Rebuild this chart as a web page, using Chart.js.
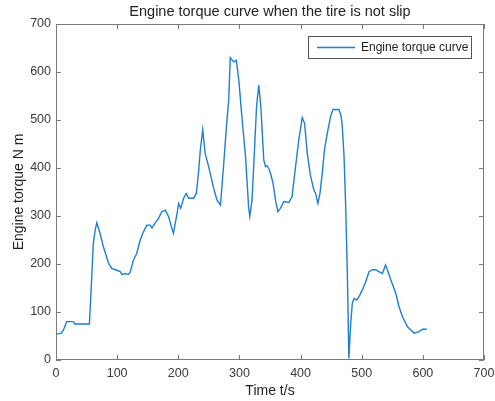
<!DOCTYPE html>
<html>
<head>
<meta charset="utf-8">
<script src="https://cdn.jsdelivr.net/npm/chart.js@4.4.1/dist/chart.umd.min.js"></script>
<style>
  body { margin: 0; background: #fff; }
  #wrap { width: 495px; height: 401px; }
</style>
</head>
<body>
<div id="wrap"><canvas id="grafico" width="495" height="401"></canvas></div>
<script>
// tempo (s) e torque (N m)
const tempo = [0, 5, 9, 12, 17.5, 28, 31, 54.6, 58, 61, 64, 66.7, 72, 77.5, 85.8, 91, 99.5, 105, 108, 113, 118, 121,
  126.7, 132, 137.7, 143, 148.6, 154, 157, 162, 167.7, 173, 178.7, 184, 188, 192, 198, 200.5, 204, 208.7, 213, 217,
  225, 229.5, 233, 236, 240, 244, 249.7, 253.5, 258, 263.4, 269, 274, 278.7, 282.5, 285, 290.7, 295, 299, 304, 310,
  315, 317, 320.6, 324.6, 328, 331.6, 335, 339.8, 342.6, 345, 348, 350.8, 355, 359, 362.8, 367, 372.6, 380.8, 386,
  391.8, 397, 402.7, 406.6, 411, 416, 421.8, 424.6, 428.4, 431.7, 435.5, 439, 443.7, 449, 453, 462.8, 466, 468, 471,
  473.8, 476.5, 479, 482, 484.6, 487.4, 491.8, 495.6, 501, 506.5, 512, 517.5, 523, 528, 533.9, 539, 542, 547.5,
  555.7, 561, 566.7, 574.9, 580, 585.8, 594, 599.5, 606.6];
const torque = [54, 55, 56, 62, 80, 80, 75, 75, 160, 243, 270, 286, 264, 236, 202, 191, 187, 184, 178, 180, 178, 182,
  208, 222, 250, 267, 281, 281, 275, 285, 295, 309, 312, 299, 281, 264, 305, 326, 316, 337, 347, 337,
  337, 347, 389, 437, 480, 430, 403, 382, 357, 333, 323, 403, 486, 542, 630, 621, 624, 583, 507, 424,
  319, 299, 333, 437, 528, 573, 528, 417, 403, 405, 399, 389, 368, 333, 309, 316, 330, 328, 340,
  403, 458, 505, 493, 430, 385, 354, 347, 326, 347, 389, 437, 472, 507, 522, 522, 510, 490, 427,
  319, 181, 3, 76, 118, 128, 125, 132, 146, 163, 184, 188, 188, 184, 180, 198, 188, 167,
  139, 111, 90, 69, 63, 56, 59, 64, 64];
const ticksX = [0, 100, 200, 300, 400, 500, 600, 700];
const ticksY = [0, 100, 200, 300, 400, 500, 600, 700];
const titulo = 'Engine torque curve when the tire is not slip';

const corEixo = '#7a7a7a';
const corTexto = '#3a3a3a';
const fonte = '"Liberation Sans", Arial, sans-serif';

// moldura estilo matlab com ticks para dentro, titulo e legenda
const molduraPlugin = {
  id: 'moldura',
  afterDraw(chart) {
    const ctx = chart.ctx;
    const a = chart.chartArea;
    const sx = chart.scales.x;
    const sy = chart.scales.y;
    ctx.save();
    ctx.strokeStyle = corEixo;
    ctx.lineWidth = 1;
    ctx.strokeRect(a.left + 0.5, a.top + 0.5, a.right - a.left - 1, a.bottom - a.top - 1);
    ctx.beginPath();
    ticksX.forEach(v => {
      const px = Math.round(sx.getPixelForValue(v)) + 0.5;
      ctx.moveTo(px, a.bottom); ctx.lineTo(px, a.bottom - 5);
      ctx.moveTo(px, a.top); ctx.lineTo(px, a.top + 5);
    });
    ticksY.forEach(v => {
      const py = Math.round(sy.getPixelForValue(v)) + 0.5;
      ctx.moveTo(a.left, py); ctx.lineTo(a.left + 5, py);
      ctx.moveTo(a.right, py); ctx.lineTo(a.right - 5, py);
    });
    ctx.stroke();

    // titulo centrado na area do grafico
    ctx.fillStyle = '#222';
    ctx.font = '14.5px ' + fonte;
    ctx.textAlign = 'center';
    ctx.textBaseline = 'middle';
    ctx.fillText(titulo, (a.left + a.right) / 2, 12);

    // legenda
    const lx = 308, ly = 36, lw = 163, lh = 22;
    ctx.fillStyle = '#fff';
    ctx.fillRect(lx, ly, lw, lh);
    ctx.strokeStyle = '#555';
    ctx.strokeRect(lx + 0.5, ly + 0.5, lw, lh);
    ctx.strokeStyle = '#1f7fcf';
    ctx.lineWidth = 1.4;
    ctx.beginPath();
    ctx.moveTo(317, ly + lh / 2 + 0.5);
    ctx.lineTo(355, ly + lh / 2 + 0.5);
    ctx.stroke();
    ctx.fillStyle = '#222';
    ctx.font = '12px ' + fonte;
    ctx.textAlign = 'left';
    ctx.fillText('Engine torque curve', 361, ly + lh / 2 + 1);
    ctx.restore();
  }
};

const pontos = tempo.map((t, i) => ({ x: t, y: torque[i] }));

new Chart(document.getElementById('grafico').getContext('2d'), {
  type: 'line',
  data: {
    datasets: [{
      label: 'Engine torque curve',
      data: pontos,
      borderColor: '#1f7fcf',
      borderWidth: 1.4,
      pointRadius: 0,
      fill: false,
      tension: 0
    }]
  },
  options: {
    responsive: false,
    animation: false,
    layout: { padding: { left: 0, right: 0, top: 24, bottom: 0 } },
    plugins: {
      legend: { display: false },
      tooltip: { enabled: false },
      title: { display: false }
    },
    scales: {
      x: {
        type: 'linear',
        min: 0,
        max: 700,
        afterFit: s => { s.height = 41; s.paddingRight = 11; s.paddingLeft = 0; },
        afterBuildTicks: s => { s.ticks = ticksX.map(v => ({ value: v })); },
        grid: { display: false, drawTicks: false, tickLength: 0 },
        border: { display: false },
        ticks: { color: corTexto, font: { family: fonte, size: 12.5 }, padding: 6, maxRotation: 0 },
        title: {
          display: true,
          text: 'Time t/s',
          color: '#222',
          font: { family: fonte, size: 14 },
          padding: { top: 0, bottom: 1 }
        }
      },
      y: {
        min: 0,
        max: 700,
        afterFit: s => { s.width = 56; },
        afterBuildTicks: s => { s.ticks = ticksY.map(v => ({ value: v })); },
        grid: { display: false, drawTicks: false, tickLength: 0 },
        border: { display: false },
        ticks: { color: corTexto, font: { family: fonte, size: 12.5 }, padding: 5 },
        title: {
          display: true,
          text: 'Engine torque N m',
          color: '#222',
          font: { family: fonte, size: 14 },
          padding: { top: 11, bottom: 0 }
        }
      }
    }
  },
  plugins: [molduraPlugin]
});
</script>
</body>
</html>
